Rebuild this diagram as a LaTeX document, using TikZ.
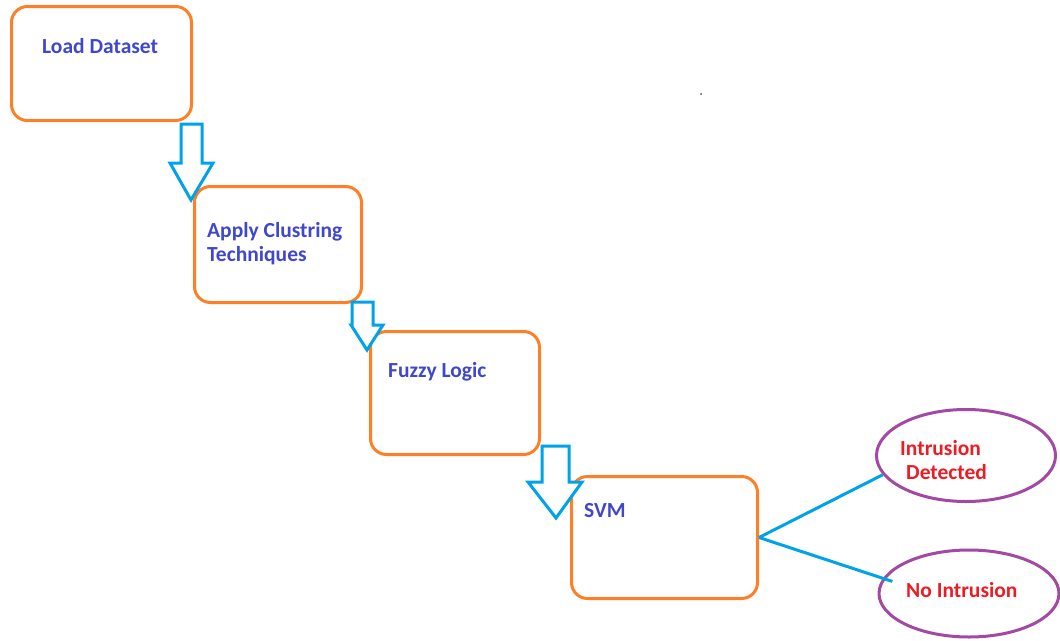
\documentclass[tikz,border=0pt]{standalone}
\usepackage{fontspec}
\setmainfont{Carlito}
\usetikzlibrary{shapes.geometric}
\definecolor{boxorange}{HTML}{FF7F27}
\definecolor{arrowblue}{HTML}{00A2E8}
\definecolor{ovalpurple}{HTML}{A349A4}
\definecolor{textblue}{HTML}{3F48CC}
\definecolor{textred}{HTML}{ED1C24}
\tikzset{
  stage/.style = {draw = boxorange, line width = 3pt, rounded corners = 16pt, inner sep = 0pt},
  result/.style = {ellipse, draw = ovalpurple, line width = 3pt, inner sep = 0pt},
  stagetext/.style = {anchor = base west, inner sep = 0pt, text = textblue, font = \bfseries\fontsize{21.5}{24}\selectfont, align = left},
  resulttext/.style = {anchor = base west, inner sep = 0pt, text = textred, font = \bfseries\fontsize{21.5}{24}\selectfont, align = left},
  blockarrow/.style = {draw = arrowblue, line width = 3pt, fill = white},
  link/.style = {draw = arrowblue, line width = 3pt}
}
% shaft left, shaft right, top, head left, head right, head y, tip x, tip y
\newcommand\flowarrow[8]{\draw[blockarrow] (#1,#3) -- (#2,#3) -- (#2,#6) -- (#5,#6) -- (#7,#8) -- (#4,#6) -- (#1,#6) -- cycle;}
\begin{document}
\begin{tikzpicture}[x = 1pt, y = -1pt]
\useasboundingbox (0,0) rectangle (1060,640);
\node[stage, minimum width = 180pt, minimum height = 114pt] (load) at (101.5,63.5) {};
\node[stage, minimum width = 167pt, minimum height = 116pt] (cluster) at (278,244.5) {};
\node[stage, minimum width = 169pt, minimum height = 123pt] (fuzzy) at (455,393) {};
\node[stage, minimum width = 186pt, minimum height = 122pt] (svm) at (664.5,537.5) {};
\node[stagetext] (loadtxt) at (42,53) {Load Dataset};
\node[stagetext] (clustertxt) at (207,261) {Apply Clustring\\Techniques};
\node[stagetext] (fuzzytxt) at (388,377) {Fuzzy Logic};
\node[stagetext] (svmtxt) at (584,517) {SVM};
\flowarrow{181}{202}{124}{170}{213}{163}{191}{200}
\flowarrow{352}{373}{302}{351}{383}{325}{367}{350}
\flowarrow{542}{569}{446}{528}{582}{482}{556}{518}
\node[result, minimum width = 179pt, minimum height = 92pt] (detected) at (966,455.5) {};
\node[result, minimum width = 180pt, minimum height = 87pt] (nointrusion) at (969,593.5) {};
\node[resulttext] (detectedtxt) at (900,479) {Intrusion\\\hspace*{6pt}Detected};
\node[resulttext] (nointrusiontxt) at (906,597) {No Intrusion};
\draw[link] (svm.east) -- (detected.193);
\draw[link, shorten >= -10pt] (svm.east) -- (nointrusion.170);
\fill[black!70] (701,94) circle (1pt);
\end{tikzpicture}
\end{document}
